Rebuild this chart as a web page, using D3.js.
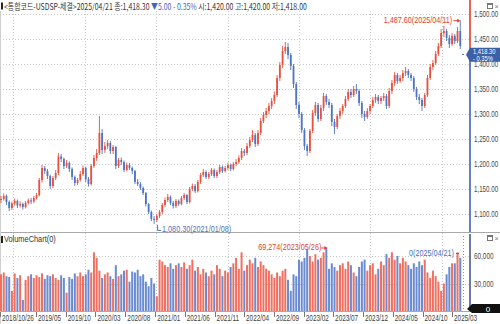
<!DOCTYPE html>
<html><head><meta charset="utf-8">
<script src="https://cdn.jsdelivr.net/npm/d3@7"></script>
<style>
html,body{margin:0;padding:0;background:#fff;}
svg{display:block;}
</style></head><body>
<svg id="chart" width="500" height="324"></svg>
<script>
// ---- data: bi-weekly USD/KRW candles (open / high / low / close) and volume ----
const opens = [
  1128,1130,1136,1124,1112,1121,1126,1117,1120,1114,
  1122,1127,1125,1132,1138,1168,1192,1186,1176,1156,
  1172,1182,1215,1210,1196,1202,1190,1174,1162,1168,
  1180,1192,1170,1160,1196,1212,1222,1262,1228,1236,
  1242,1226,1234,1196,1208,1204,1188,1198,1192,1186,
  1164,1160,1152,1142,1120,1104,1090,1088,1096,1104,
  1118,1128,1134,1122,1116,1126,1120,1132,1138,1124,
  1150,1156,1146,1164,1178,1184,1174,1180,1188,1176,
  1184,1194,1186,1192,1198,1190,1200,1204,1212,1226,
  1222,1236,1248,1258,1240,1262,1286,1298,1306,1316,
  1326,1338,1372,1398,1426,1434,1418,1396,1360,1318,
  1300,1268,1236,1226,1266,1302,1318,1290,1312,1336,
  1324,1318,1284,1274,1296,1306,1316,1330,1344,1338,
  1350,1346,1322,1300,1294,1306,1316,1328,1334,1326,
  1332,1336,1316,1346,1362,1378,1366,1372,1382,1386,
  1378,1372,1350,1334,1328,1316,1338,1372,1394,1402,
  1420,1436,1462,1466,1452,1440,1456,1446,1466,1420
];
const closes = [
  1130,1136,1124,1112,1121,1126,1117,1120,1114,1122,
  1127,1125,1132,1138,1168,1192,1186,1176,1156,1172,
  1182,1215,1210,1196,1202,1190,1174,1162,1168,1180,
  1192,1170,1160,1196,1212,1222,1262,1228,1236,1242,
  1226,1234,1196,1208,1204,1188,1198,1192,1186,1164,
  1160,1152,1142,1120,1104,1090,1088,1096,1104,1118,
  1128,1134,1122,1116,1126,1120,1132,1138,1124,1150,
  1156,1146,1164,1178,1184,1174,1180,1188,1176,1184,
  1194,1186,1192,1198,1190,1200,1204,1212,1226,1222,
  1236,1248,1258,1240,1262,1286,1298,1306,1316,1326,
  1338,1372,1398,1426,1434,1418,1396,1360,1318,1300,
  1268,1236,1226,1266,1302,1318,1290,1312,1336,1324,
  1318,1284,1274,1296,1306,1316,1330,1344,1338,1350,
  1346,1322,1300,1294,1306,1316,1328,1334,1326,1332,
  1336,1316,1346,1362,1378,1366,1372,1382,1386,1378,
  1372,1350,1334,1328,1316,1338,1372,1394,1402,1420,
  1436,1462,1466,1452,1440,1456,1446,1466,1436,1418.3
];
const highs = [
  1136,1141,1139,1127,1125,1131,1129,1125,1123,1126,
  1131,1132,1136,1142,1172,1198,1196,1190,1179,1176,
  1188,1222,1220,1213,1208,1205,1193,1177,1172,1186,
  1197,1195,1174,1200,1218,1230,1296,1270,1244,1248,
  1246,1238,1236,1212,1213,1207,1203,1202,1195,1188,
  1170,1164,1155,1144,1122,1107,1096,1100,1108,1122,
  1133,1140,1137,1126,1130,1129,1136,1142,1140,1154,
  1161,1160,1168,1182,1190,1187,1184,1192,1191,1188,
  1198,1197,1196,1203,1201,1204,1210,1217,1232,1230,
  1242,1254,1268,1262,1268,1292,1304,1312,1322,1332,
  1345,1378,1404,1436,1444,1442,1422,1400,1364,1324,
  1304,1272,1240,1270,1308,1324,1322,1318,1342,1340,
  1330,1322,1290,1300,1312,1320,1336,1350,1350,1356,
  1360,1350,1326,1306,1312,1320,1334,1340,1338,1336,
  1342,1340,1352,1368,1384,1382,1378,1388,1394,1390,
  1382,1376,1354,1340,1332,1342,1378,1400,1408,1426,
  1442,1470,1476,1470,1458,1462,1460,1474,1487.6,1420
];
const lows = [
  1122,1127,1118,1106,1108,1117,1112,1113,1109,1111,
  1119,1120,1122,1129,1135,1163,1180,1170,1150,1152,
  1168,1178,1204,1190,1192,1184,1168,1156,1158,1165,
  1176,1164,1155,1157,1192,1206,1218,1220,1222,1230,
  1220,1220,1190,1192,1198,1184,1185,1188,1180,1160,
  1156,1148,1138,1115,1100,1086,1080.3,1084,1092,1100,
  1114,1124,1118,1111,1112,1116,1117,1128,1120,1121,
  1146,1142,1143,1160,1174,1170,1170,1176,1172,1172,
  1180,1182,1183,1188,1186,1187,1196,1200,1208,1216,
  1218,1232,1244,1234,1236,1258,1282,1292,1300,1310,
  1320,1334,1366,1392,1420,1410,1388,1352,1310,1292,
  1262,1228,1216,1222,1262,1296,1284,1286,1306,1318,
  1312,1276,1260,1270,1290,1300,1312,1326,1332,1334,
  1340,1316,1292,1286,1290,1300,1312,1322,1320,1320,
  1326,1310,1312,1340,1356,1360,1362,1366,1376,1372,
  1366,1344,1328,1320,1306,1312,1334,1368,1388,1398,
  1416,1432,1454,1446,1432,1436,1440,1442,1430,1418
];
const volumes = [
  40000,42000,38000,37000,22000,41000,36000,39000,12000,34000,
  38000,40000,36000,39000,37000,41000,35000,39000,38000,40000,
  36000,34000,39000,36000,20000,37000,35000,41000,38000,42000,
  38000,40000,45000,42000,64000,58000,44000,36000,40000,42000,
  38000,35000,50000,38000,40000,44000,45000,32000,43000,42000,
  45000,38000,40000,32000,27000,36000,30000,16000,56000,54000,
  50000,48000,52000,46000,50000,52000,48000,53000,46000,50000,
  56000,44000,48000,40000,46000,42000,38000,44000,40000,50000,
  46000,38000,44000,42000,48000,52000,58000,46000,64000,44000,
  50000,56000,52000,58000,48000,54000,50000,46000,44000,40000,
  36000,42000,38000,44000,46000,34000,22000,40000,38000,56000,
  54000,58000,67000,60000,54000,62000,56000,58000,64000,69274,
  46000,52000,48000,44000,50000,52000,46000,54000,50000,42000,
  38000,48000,54000,56000,44000,50000,52000,40000,46000,54000,
  50000,62000,58000,64000,56000,60000,52000,58000,54000,50000,
  46000,52000,48000,54000,50000,56000,42000,36000,44000,38000,
  32000,22000,30000,40000,48000,52000,52000,64000,58000,0
];
const lastDate = "2025/04/21";
const barStepDays = 14;

const priceTicks = [1100, 1150, 1200, 1250, 1300, 1350, 1400, 1450, 1500];
const volumeTicks = [30000, 60000];
const dateTickLabels = ["2018/10/26","2019/05","2019/10","2020/03","2020/08","2021/01","2021/06",
  "2021/11","2022/04","2022/09","2023/02","2023/07","2023/12","2024/05","2024/10","2025/03"];

const quote = {code: "<통합코드-USDSP-체결>", date: "2025/04/21", close: 1418.30, change: -5.00,
  changePct: -0.35, open: 1420.00, high: 1420.00, low: 1418.00};
const highDateLabel = "2025/04/11";
const lowDateLabel = "2021/01/08";
const volMaxDateLabel = "2023/05/26";

// ---- layout ----
const W = 500, H = 324;
const axisX = 470;
const mainTop = 11, mainBottom = 232;
const volTop = 234, volBottom = 311;
const UP = "#e8503f", DOWN = "#4f74c0";
const VUP = "#ef6f60", VDOWN = "#6a8bd0";
const FONT = '"Liberation Sans",Arial,sans-serif';
const KFONT = '"Noto Sans CJK KR","Noto Sans",sans-serif';

// squeeze a text horizontally about its anchor x, for the compact terminal look
function condense(sel, k) {
  sel.each(function () {
    const ax = +(this.getAttribute("x") || 0);
    const prev = this.getAttribute("transform") || "";
    this.setAttribute("transform", `${prev} translate(${ax},0) scale(${k},1) translate(${-ax},0)`);
  });
  return sel;
}
// squeeze a text so that it spans the given width
function fitWidth(node, width) {
  const w = node.getComputedTextLength();
  if (w > 0) condense(d3.select(node), width / w);
}

const parseDay = d3.timeParse("%Y/%m/%d");
const parseMonth = d3.timeParse("%Y/%m");
const end = parseDay(lastDate);
const n = closes.length;
const dates = d3.range(n).map(i => d3.timeDay.offset(end, -barStepDays * (n - 1 - i)));
const bars = dates.map((d, i) => ({date: d, o: opens[i], h: highs[i], l: lows[i], c: closes[i], v: volumes[i]}));

const x = d3.scaleTime().domain([dates[0], dates[n - 1]]).range([1, 463]);
const y = d3.scaleLinear().domain([1100, 1500]).range([214, 14]);
const yv = d3.scaleLinear().domain([0, 60000]).range([volBottom, 256]);

const svg = d3.select("#chart");
svg.append("rect").attr("width", W).attr("height", H).attr("fill", "#fff");

// ---- grid ----
const grid = svg.append("g").attr("stroke", "#c9c9c9").attr("stroke-width", 1).attr("stroke-dasharray", "1,2");
const years = d3.timeYear.range(d3.timeYear.ceil(dates[0]), dates[n - 1]);
grid.selectAll(".vg").data(years).join("line")
  .attr("x1", d => Math.round(x(d)) + 0.5).attr("x2", d => Math.round(x(d)) + 0.5)
  .attr("y1", mainTop).attr("y2", volBottom);
grid.selectAll(".hg").data(priceTicks).join("line")
  .attr("x1", 0).attr("x2", axisX).attr("y1", d => Math.round(y(d)) + 0.5).attr("y2", d => Math.round(y(d)) + 0.5);
grid.selectAll(".hv").data(volumeTicks).join("line")
  .attr("x1", 0).attr("x2", axisX).attr("y1", d => Math.round(yv(d)) + 0.5).attr("y2", d => Math.round(yv(d)) + 0.5);

// current-bar marker in volume pane
svg.append("line").attr("x1", Math.round(x(end)) + 0.5).attr("x2", Math.round(x(end)) + 0.5)
  .attr("y1", volTop + 2).attr("y2", volBottom).attr("stroke", "#7d98d4").attr("stroke-dasharray", "1,2");

// ---- panel frames ----
svg.append("line").attr("x1", 0).attr("x2", W).attr("y1", mainBottom + 0.5).attr("y2", mainBottom + 0.5).attr("stroke", "#a9a9a9");
svg.append("line").attr("x1", 0).attr("x2", W).attr("y1", volBottom + 0.5).attr("y2", volBottom + 0.5).attr("stroke", "#a9a9a9");
svg.append("line").attr("x1", 0.5).attr("x2", 0.5).attr("y1", mainTop).attr("y2", H).attr("stroke", "#d0d0d0");

// ---- candles ----
const bw = 1.8;
const candles = svg.append("g");
candles.selectAll("line").data(bars).join("line")
  .attr("x1", d => x(d.date)).attr("x2", d => x(d.date))
  .attr("y1", d => y(d.h)).attr("y2", d => y(d.l))
  .attr("stroke", d => d.c >= d.o ? UP : DOWN).attr("stroke-width", 0.9);
candles.selectAll("rect").data(bars).join("rect")
  .attr("x", d => x(d.date) - bw / 2).attr("width", bw)
  .attr("y", d => y(Math.max(d.o, d.c)))
  .attr("height", d => Math.max(1, Math.abs(y(d.o) - y(d.c))))
  .attr("fill", d => d.c >= d.o ? UP : DOWN);

// ---- volume bars ----
svg.append("g").selectAll("rect").data(bars).join("rect")
  .attr("x", d => x(d.date) - 1).attr("width", 2)
  .attr("y", d => yv(d.v)).attr("height", d => volBottom - yv(d.v))
  .attr("fill", d => d.c >= d.o ? VUP : VDOWN);

// ---- price axis ----
const yc = y(quote.close);
svg.append("line").attr("x1", axisX).attr("x2", axisX).attr("y1", 0).attr("y2", yc)
  .attr("stroke", "#e23b2b").attr("stroke-width", 1.6);
svg.append("line").attr("x1", axisX).attr("x2", axisX).attr("y1", yc).attr("y2", mainBottom)
  .attr("stroke", "#3d62ad").attr("stroke-width", 1.6);
const pa = svg.append("g").attr("transform", `translate(${axisX + 3},0)`)
  .call(d3.axisRight(y).tickValues(priceTicks).tickSize(0).tickPadding(1).tickFormat(d3.format(",.2f")));
pa.select(".domain").remove();
pa.selectAll("text").attr("fill", "#4a4a4a").style("font-family", FONT).style("font-size", "8.4px");
condense(pa.selectAll("text"), 0.74);

// ---- volume axis ----
svg.append("line").attr("x1", axisX).attr("x2", axisX).attr("y1", volTop).attr("y2", volBottom)
  .attr("stroke", "#2e4470").attr("stroke-width", 1.4);
const va = svg.append("g").attr("transform", `translate(${axisX + 3},0)`)
  .call(d3.axisRight(yv).tickValues(volumeTicks).tickSize(0).tickPadding(1).tickFormat(d3.format(",")));
va.select(".domain").remove();
va.selectAll("text").attr("fill", "#4a4a4a").style("font-family", FONT).style("font-size", "8.4px");
condense(va.selectAll("text"), 0.76);

// ---- date axis ----
const dateTicks = dateTickLabels.map(s => ({label: s, date: s.length > 7 ? parseDay(s) : parseMonth(s)}));
const da = svg.append("g");
da.selectAll("line").data(dateTicks).join("line")
  .attr("x1", d => Math.max(0.5, Math.round(x(d.date)) - 0.5)).attr("x2", d => Math.max(0.5, Math.round(x(d.date)) - 0.5))
  .attr("y1", volBottom + 1).attr("y2", volBottom + 6).attr("stroke", "#777");
condense(da.selectAll("text").data(dateTicks).join("text")
  .attr("x", d => Math.max(2, x(d.date) + 1)).attr("y", 321)
  .attr("fill", "#3e3e3e").style("font-family", FONT).style("font-size", "8.4px")
  .text(d => d.label), 0.76);

// ---- current price tag ----
const tag = svg.append("g");
tag.append("path")
  .attr("d", `M${axisX - 4},${yc} L${axisX},${yc - 7} L${W},${yc - 7} L${W},${yc + 7} L${axisX},${yc + 7} Z`)
  .attr("fill", "#3c5fa6");
condense(tag.append("text").attr("x", axisX + 3).attr("y", yc - 0.8).attr("fill", "#fff")
  .style("font-family", FONT).style("font-size", "7.4px").text(d3.format(",.2f")(quote.close)), 0.78);
condense(tag.append("text").attr("x", axisX + 3).attr("y", yc + 6).attr("fill", "#fff")
  .style("font-family", FONT).style("font-size", "7.4px").text(`- ${Math.abs(quote.changePct).toFixed(2)}%`), 0.78);

// last volume tag
const lastV = volumes[n - 1];
const yl = yv(lastV) - 2;
svg.append("path")
  .attr("d", `M${axisX - 3},${yl} L${axisX + 2},${yl - 5} L${W},${yl - 5} L${W},${yl + 4} L${axisX + 2},${yl + 4} Z`)
  .attr("fill", "#111");
svg.append("text").attr("x", 488).attr("y", yl + 3).attr("text-anchor", "middle").attr("fill", "#fff")
  .style("font-family", FONT).style("font-size", "8px").text(d3.format(",")(lastV));

// ---- extreme annotations ----
const iHigh = d3.maxIndex(highs), iLow = d3.minIndex(lows), iVol = d3.maxIndex(volumes);
const xh = x(dates[iHigh]), yh = y(highs[iHigh]);
condense(svg.append("text").attr("x", xh - 8).attr("y", yh + 3).attr("text-anchor", "end").attr("fill", "#e2402f")
  .style("font-family", FONT).style("font-size", "8.4px")
  .text(`${d3.format(",.2f")(highs[iHigh])}(${highDateLabel})`), 0.86);
svg.append("line").attr("x1", xh - 7).attr("x2", xh - 1).attr("y1", yh + 0.5).attr("y2", yh + 0.5).attr("stroke", "#e2402f");
svg.append("path").attr("d", `M${xh},${yh + 0.5} l-3,-2 v4 z`).attr("fill", "#e2402f");

const xl = x(dates[iLow]), ylo = y(lows[iLow]);
svg.append("path").attr("d", `M${xl + 3.5},${ylo + 1} V${ylo + 6.5} H${xl + 7}`)
  .attr("fill", "none").attr("stroke", "#4d72bd");
condense(svg.append("text").attr("x", xl + 8).attr("y", ylo + 8).attr("fill", "#4d72bd")
  .style("font-family", FONT).style("font-size", "8.4px")
  .text(`${d3.format(",.2f")(lows[iLow])}(${lowDateLabel})`), 0.86);

const xvm = x(dates[iVol]), yvm = yv(volumes[iVol]);
condense(svg.append("text").attr("x", xvm - 5).attr("y", yvm + 3).attr("text-anchor", "end").attr("fill", "#e2402f")
  .style("font-family", FONT).style("font-size", "8.4px")
  .text(`${d3.format(",")(volumes[iVol])}(${volMaxDateLabel})`), 0.86);
svg.append("line").attr("x1", xvm - 5).attr("x2", xvm).attr("y1", yvm + 0.5).attr("y2", yvm + 0.5).attr("stroke", "#e2402f");
svg.append("path").attr("d", `M${xvm + 1},${yvm + 0.5} l-3,-2 v4 z`).attr("fill", "#e2402f");

const xe = x(end), ye = volTop + 19;
condense(svg.append("text").attr("x", xe - 9).attr("y", ye + 3).attr("text-anchor", "end").attr("fill", "#4d72bd")
  .style("font-family", FONT).style("font-size", "8.4px")
  .text(`${d3.format(",")(lastV)}(${lastDate})`), 0.86);
svg.append("line").attr("x1", xe - 7).attr("x2", xe - 4).attr("y1", ye + 0.5).attr("y2", ye + 0.5).attr("stroke", "#4d72bd");

// ---- headers ----
svg.append("rect").attr("x", 1).attr("y", 2.5).attr("width", 2).attr("height", 7).attr("fill", "#222");
const hdr = svg.append("text").attr("x", 4).attr("y", 9.5)
  .style("font-family", KFONT).style("font-size", "8.6px").attr("fill", "#333");
hdr.append("tspan").text(`${quote.code}${quote.date} 종:${d3.format(",.2f")(quote.close)} `);
hdr.append("tspan").attr("fill", "#3d66c4")
  .text(`▼${Math.abs(quote.change).toFixed(2)}  - ${Math.abs(quote.changePct).toFixed(2)}%`);
hdr.append("tspan").text(` 시:${d3.format(",.2f")(quote.open)} 고:${d3.format(",.2f")(quote.high)} 저:${d3.format(",.2f")(quote.low)}`);
fitWidth(hdr.node(), 303);

svg.append("rect").attr("x", 1).attr("y", mainBottom + 4).attr("width", 2).attr("height", 7).attr("fill", "#222");
condense(svg.append("text").attr("x", 4).attr("y", mainBottom + 10.5).attr("fill", "#333")
  .style("font-family", FONT).style("font-size", "8.6px").text("VolumeChart(0)"), 0.86);

// window buttons
[3, mainBottom + 3].forEach(t => {
  svg.append("rect").attr("x", 487.5).attr("y", t + 0.5).attr("width", 5).attr("height", 5)
    .attr("fill", "none").attr("stroke", "#777");
  svg.append("line").attr("x1", 487.5).attr("x2", 492.5).attr("y1", t + 1.5).attr("y2", t + 1.5).attr("stroke", "#777");
  svg.append("text").attr("x", 494.5).attr("y", t + 6).attr("fill", "#777")
    .style("font-family", FONT).style("font-size", "7px").text("×");
});
</script>
</body></html>
